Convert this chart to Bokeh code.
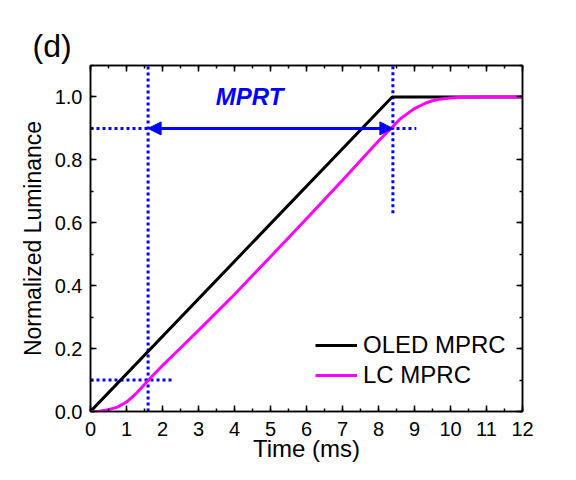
from bokeh.plotting import figure
from bokeh.models import (Range1d, FixedTicker, LinearAxis, Label, Legend, LegendItem,
                          Arrow, NormalHead, CustomJSTickFormatter)
from bokeh.embed import file_html
from bokeh.resources import INLINE

# ---- data ----
time_oled = [0.0, 8.38, 12.0]
lum_oled = [0.0, 1.0, 1.0]

time_lc = [0.0, 0.25, 0.5, 0.75, 1.0, 1.25, 1.5, 1.75, 2.0, 2.5, 3.0, 4.0, 5.0, 6.0, 7.0,
           8.0, 8.4, 8.6, 8.9, 9.0, 9.3, 9.5, 9.7, 10.0, 10.3, 11.0, 12.0]
lum_lc = [0.0, 0.001, 0.006, 0.014, 0.03, 0.055, 0.086, 0.117, 0.146, 0.202, 0.258, 0.372,
          0.492, 0.613, 0.735, 0.86, 0.906, 0.93, 0.955, 0.963, 0.98, 0.988, 0.993, 0.997,
          0.999, 1.0, 1.0]

mprt_start = 1.6
mprt_end = 8.4
lum_low = 0.1
lum_high = 0.9

x_ticks = list(range(0, 13))
y_ticks = [0.0, 0.2, 0.4, 0.6, 0.8, 1.0]
x_minor = [i * 0.5 for i in range(0, 25)]
y_minor = [i * 0.1 for i in range(0, 12)]

FONT = "Liberation Sans"
BLUE = "#0000ff"

p = figure(width=576, height=480, output_backend="svg", toolbar_location=None,
           x_range=Range1d(0, 12), y_range=Range1d(0, 1.1),
           min_border_left=90, min_border_right=54, min_border_top=65, min_border_bottom=69,
           x_axis_label="Time (ms)", y_axis_label="Normalized Luminance",
           title="(d)")
p.grid.visible = False
p.outline_line_color = "black"
p.outline_line_width = 1.5
p.background_fill_color = "white"
p.border_fill_color = "white"
p.title.text_font = FONT
p.title.text_font_size = "32px"
p.title.text_font_style = "normal"
p.title.text_color = "black"
p.title.align = "left"
p.title.offset = -58
p.title.standoff = 4


def style_axis(ax, show_labels=True):
    ax.major_tick_in = 6
    ax.major_tick_out = 0
    ax.minor_tick_in = 3
    ax.minor_tick_out = 0
    ax.axis_line_color = "black"
    ax.axis_line_width = 1.5
    ax.major_tick_line_width = 1.5
    ax.minor_tick_line_width = 1.5
    ax.major_tick_line_color = "black"
    ax.minor_tick_line_color = "black"
    ax.major_label_text_font = FONT
    ax.major_label_text_font_size = "20px"
    ax.major_label_text_color = "black"
    ax.major_label_standoff = 8
    ax.axis_label_text_font = FONT
    ax.axis_label_text_font_size = "23px"
    ax.axis_label_text_font_style = "normal"
    ax.axis_label_text_color = "black"
    ax.axis_label_standoff = 6
    if not show_labels:
        ax.formatter = CustomJSTickFormatter(code="return '';")
        ax.major_label_standoff = 0


p.xaxis.ticker = FixedTicker(ticks=x_ticks, minor_ticks=x_minor)
p.yaxis.ticker = FixedTicker(ticks=y_ticks, minor_ticks=y_minor)
for ax in p.xaxis:
    style_axis(ax)
for ax in p.yaxis:
    style_axis(ax)
p.yaxis.formatter = CustomJSTickFormatter(code="return tick.toFixed(1);")
p.xaxis.major_label_standoff = 10
p.xaxis.axis_label_standoff = -4
p.xaxis.axis_label_text_font_size = "24px"

top = LinearAxis(ticker=FixedTicker(ticks=x_ticks, minor_ticks=x_minor))
right = LinearAxis(ticker=FixedTicker(ticks=y_ticks, minor_ticks=y_minor))
style_axis(top, False)
style_axis(right, False)
top.major_label_standoff = 14
p.add_layout(top, "above")
p.add_layout(right, "right")

# guide lines
dot = dict(line_color=BLUE, line_width=3, line_dash="3 3")
p.line([mprt_start, mprt_start], [0, 1.1], **dot)
p.line([0, 2.3], [lum_low, lum_low], **dot)
p.line([0, 9.05], [lum_high, lum_high], **dot)
p.line([mprt_end, mprt_end], [0.63, 1.1], **dot)

r_oled = p.line(time_oled, lum_oled, line_color="black", line_width=3)
r_lc = p.line(time_lc, lum_lc, line_color="#ff00ff", line_width=3)

p.add_layout(Arrow(start=NormalHead(size=13, fill_color=BLUE, line_color=BLUE),
                   end=NormalHead(size=13, fill_color=BLUE, line_color=BLUE),
                   x_start=mprt_start, y_start=lum_high, x_end=mprt_end, y_end=lum_high,
                   line_color=BLUE, line_width=3))

p.add_layout(Label(x=4.42, y=1.0, text="MPRT", text_font=FONT, text_font_size="24px",
                   text_font_style="bold italic", text_color=BLUE,
                   text_align="center", text_baseline="middle"))

legend = Legend(items=[LegendItem(label="OLED MPRC", renderers=[r_oled]),
                       LegendItem(label="LC MPRC", renderers=[r_lc])],
                location=(225, 21), padding=0, margin=0, spacing=0,
                glyph_width=42, glyph_height=30, label_height=30,
                label_standoff=6, border_line_color=None, background_fill_alpha=0,
                label_text_font=FONT, label_text_font_size="24px", label_text_color="black")
p.add_layout(legend)

open("out.html", "w").write(file_html(p, INLINE))
